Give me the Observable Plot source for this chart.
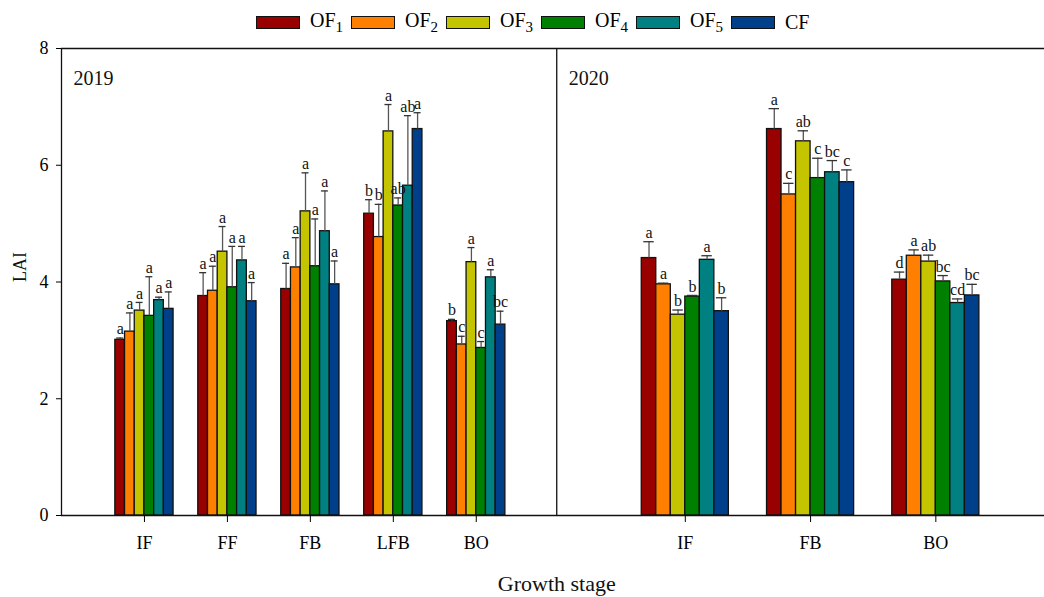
<!DOCTYPE html>
<html>
<head>
<meta charset="utf-8">
<script src="https://cdn.jsdelivr.net/npm/d3@7"></script>
<script src="https://cdn.jsdelivr.net/npm/@observablehq/plot@0.6"></script>
<style>
  html, body { margin: 0; padding: 0; background: #fff; }
  body { width: 1044px; height: 597px; overflow: hidden; position: relative; font-family: "Liberation Serif", "DejaVu Serif", serif; }
  #legend { position: absolute; top: 4px; left: 0; height: 36px; display: flex; align-items: center; font-size: 20px; color: #000; padding-left: 256px; box-sizing: border-box; }
  .item { display: flex; align-items: center; }
  .sw { width: 42px; height: 11px; border: 1.5px solid #111; margin-right: 10px; }
  .item span.lab { width: 41px; white-space: nowrap; }
  sub { font-size: 15px; vertical-align: -5px; }
</style>
</head>
<body>
<div id="chart"></div>
<div id="legend"></div>
<script>
// ---- data ----
const treatments = ["OF1", "OF2", "OF3", "OF4", "OF5", "CF"];
const colors = ["#990000", "#FF8000", "#C4C400", "#008000", "#008080", "#003F8A"];

const stages2019 = ["IF", "FF", "FB", "LFB", "BO"];
const lai2019 = [
  [3.01, 3.15, 3.51, 3.42, 3.69, 3.54],
  [3.76, 3.85, 4.52, 3.91, 4.37, 3.67],
  [3.88, 4.25, 5.21, 4.27, 4.87, 3.96],
  [5.17, 4.77, 6.58, 5.31, 5.65, 6.62],
  [3.33, 2.93, 4.34, 2.87, 4.08, 3.27]
];
const err2019 = [
  [0.03, 0.32, 0.14, 0.67, 0.05, 0.29],
  [0.40, 0.42, 0.43, 0.70, 0.24, 0.32],
  [0.44, 0.51, 0.66, 0.81, 0.69, 0.40],
  [0.24, 0.56, 0.46, 0.13, 1.20, 0.28],
  [0.03, 0.14, 0.25, 0.11, 0.13, 0.23]
];
const letters2019 = [
  ["a", "a", "a", "a", "a", "a"],
  ["a", "a", "a", "a", "a", "a"],
  ["a", "a", "a", "a", "a", "a"],
  ["b", "b", "a", "ab", "ab", "a"],
  ["b", "c", "a", "c", "a", "bc"]
];

const stages2020 = ["IF", "FB", "BO"];
const lai2020 = [
  [4.41, 3.96, 3.44, 3.75, 4.38, 3.50],
  [6.62, 5.50, 6.41, 5.78, 5.88, 5.71],
  [4.04, 4.45, 4.35, 4.01, 3.64, 3.77]
];
const err2020 = [
  [0.28, 0.02, 0.08, 0.02, 0.07, 0.23],
  [0.35, 0.19, 0.18, 0.34, 0.20, 0.21],
  [0.13, 0.10, 0.11, 0.10, 0.07, 0.19]
];
const letters2020 = [
  ["a", "a", "b", "b", "a", "b"],
  ["a", "c", "ab", "c", "bc", "c"],
  ["d", "a", "ab", "bc", "cd", "bc"]
];

const yTicks = [0, 2, 4, 6, 8];

// ---- layout (x in panel units) ----
const panels = [
  {year: "2019", stages: stages2019, lai: lai2019, err: err2019, letters: letters2019, start: 1.0, step: 1.0, barW: 0.117, start0: 0},
  {year: "2020", stages: stages2020, lai: lai2020, err: err2020, letters: letters2020, start: 7.52, step: 1.51, barW: 0.175, start0: 5.97}
];
const xMax = 11.85;
const divider = 5.97;

const rows = [];
const tickPos = [], tickLab = [];
for (const p of panels) {
  p.stages.forEach((s, si) => {
    const c = p.start + si * p.step;
    tickPos.push(c); tickLab.push(s);
    treatments.forEach((t, ti) => {
      const x1 = c + (ti - 3) * p.barW;
      rows.push({
        year: p.year, stage: s, treatment: t,
        value: p.lai[si][ti], err: p.err[si][ti], letter: p.letters[si][ti],
        x1, x2: x1 + p.barW, xc: x1 + p.barW / 2, cap: p.barW * 0.36
      });
    });
  });
}
const labelMap = new Map(tickPos.map((d, i) => [d, tickLab[i]]));

// ---- legend ----
const lg = document.getElementById("legend");
treatments.forEach((t, i) => {
  const it = document.createElement("div");
  it.className = "item";
  const sw = document.createElement("div");
  sw.className = "sw"; sw.style.background = colors[i];
  const lab = document.createElement("span");
  lab.className = "lab";
  lab.innerHTML = t.startsWith("OF") ? "OF<sub>" + t.slice(2) + "</sub>" : t;
  it.append(sw, lab);
  lg.append(it);
});

// ---- chart ----
const font = "Liberation Serif";
const chart = Plot.plot({
  width: 1044,
  height: 597,
  marginLeft: 61,
  marginRight: 0,
  marginTop: 48,
  marginBottom: 82,
  style: {fontFamily: font, fontSize: "18px", color: "#000", background: "#fff"},
  x: {domain: [0, xMax], axis: null},
  y: {domain: [0, 8], axis: null},
  color: {domain: treatments, range: colors},
  marks: [
    Plot.rectY(rows, {x1: "x1", x2: "x2", y1: 0, y2: "value", fill: "treatment", stroke: "#111", strokeWidth: 1.3}),
    Plot.ruleX(rows, {x: "xc", y1: "value", y2: d => d.value + d.err, stroke: "#555", strokeWidth: 1.3}),
    Plot.ruleY(rows, {y: d => d.value + d.err, x1: d => d.xc - d.cap, x2: d => d.xc + d.cap, stroke: "#333", strokeWidth: 1.3}),
    Plot.text(rows, {x: "xc", y: d => d.value + d.err, text: "letter", dy: -9, fontSize: 16, fontFamily: font, fill: "#111"}),
    Plot.ruleY([0], {stroke: "#111", strokeWidth: 1.3}),
    Plot.ruleY([8], {stroke: "#111", strokeWidth: 1.3}),
    Plot.ruleX([0], {stroke: "#111", strokeWidth: 1.3}),
    Plot.ruleX([divider], {stroke: "#111", strokeWidth: 1.3}),
    Plot.axisY({ticks: yTicks, tickSize: 5, tickPadding: 8, label: null, fontSize: 18, fontFamily: font}),
    Plot.axisX({ticks: tickPos, tickFormat: d => labelMap.get(d), tickSize: 7, tickPadding: 14, label: null, fontSize: 18, fontFamily: font}),
    Plot.text(panels, {x: "start0", y: 8, text: "year", textAnchor: "start", dx: 12, dy: 30, fontSize: 20, fontFamily: font, fill: "#111"}),
    Plot.text(["LAI"], {frameAnchor: "left", text: d => d, rotate: -90, dx: -41, fontSize: 18, fontFamily: font, fill: "#111"}),
    Plot.text(["Growth stage"], {frameAnchor: "bottom", text: d => d, dy: 75, fontSize: 22, fontFamily: font, fill: "#111", x: () => divider})
  ]
});
document.getElementById("chart").append(chart);
</script>
</body>
</html>
